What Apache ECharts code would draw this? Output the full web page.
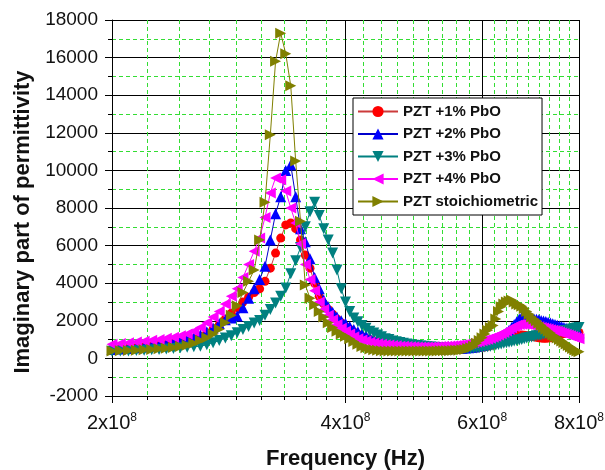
<!DOCTYPE html>
<html><head><meta charset="utf-8">
<script src="https://cdn.jsdelivr.net/npm/echarts@6/dist/echarts.min.js"></script>
<style>html,body{margin:0;padding:0;background:#fff}#c{width:605px;height:470px}</style>
</head><body><div id="c"></div>
<script>
// Frequency in MHz
const freqMHz = [
200,205,210,215,220,225,230,235,240,245,
250,255,260,265,270,275,280,285,290,295,
300,305,310,315,320,325,330,335,340,345,
350,355,360,365,370,375,380,385,390,395,
400,405,410,415,420,425,430,435,440,445,
450,455,460,465,470,475,480,485,490,495,
500,505,510,515,520,525,530,535,540,545,
550,555,560,565,570,575,580,585,590,595,
600,605,610,615,620,625,630,635,640,645,
650,655,660,665,670,675,680,685,690,695,
700,705,710,715,720,725,730,735,740,745,
750,755,760,765,770,775,780,785,790,795,
800];

const seriesNames = ['PZT +1% PbO','PZT +2% PbO','PZT +3% PbO','PZT +4% PbO','PZT stoichiometric'];

const pzt1 = [
500,520,550,580,610,650,690,740,800,870,
950,1050,1180,1350,1550,1800,2100,2400,2700,3000,
3250,3500,3700,4100,4800,5600,6400,7100,7200,6900,
6300,5500,4800,4000,3300,2900,2600,2350,2100,1900,
1700,1550,1400,1280,1170,1080,1000,930,870,820,
780,740,700,670,640,620,600,580,560,550,
540,530,520,510,500,500,490,490,490,490,
490,490,500,500,510,520,530,540,550,570,
590,610,640,680,730,780,840,900,960,1030,
1100,1160,1200,1230,1240,1240,1230,1210,1190,1170,
1150,1120,1100,1080,1070,1070,1080,1100,1130,1170,
1210,1250,1290,1320,1350,1370,1380,1390,1390,1390,
1380];

const pzt2 = [
480,500,530,560,600,640,690,750,820,900,
990,1100,1250,1420,1620,1850,2050,2150,2250,2700,
3200,3700,4200,4900,6300,7700,8600,10000,10300,8600,
6900,6200,5300,4300,3700,3100,2750,2450,2200,2000,
1850,1700,1540,1420,1300,1200,1100,1000,940,880,
830,780,740,700,670,640,620,600,580,560,
550,540,530,520,520,510,510,510,510,510,
520,520,530,540,550,570,590,610,640,670,
700,740,790,840,900,970,1050,1150,1250,1380,
1500,1650,1800,1950,2100,2200,2250,2250,2200,2150,
2100,2080,2050,2020,1990,1960,1920,1880,1840,1800,
1760,1720,1680,1640,1600,1560,1520,1480,1440,1400,
1360];

const pzt3 = [
380,390,400,420,440,460,480,500,530,560,
590,620,650,720,830,950,1080,1200,1370,1540,
1700,1880,2020,2300,2600,2950,3300,3750,4500,5200,
5900,7000,7800,8300,7600,6900,6300,5600,4700,3700,
3000,2500,2150,1950,1750,1600,1450,1350,1250,1150,
1050,1000,930,880,840,800,760,730,700,680,
660,640,620,600,590,580,570,560,550,540,
530,520,520,520,520,520,530,540,550,560,
580,600,620,650,680,710,740,770,800,830,
860,890,920,950,980,1010,1050,1080,1110,1140,
1170,1200,1230,1250,1280,1300,1320,1340,1360,1380,
1400,1420,1440,1460,1480,1500,1530,1560,1590,1620,
1650];

const pzt4 = [
750,790,830,870,910,960,1010,1070,1130,1200,
1300,1450,1650,1900,2200,2500,2900,3300,3700,4300,
5000,5700,6400,7500,8800,9600,9500,8900,8000,7200,
6100,5000,4200,3600,3000,2600,2300,2050,1800,1600,
1440,1300,1150,1050,980,920,860,820,780,750,
730,710,690,670,650,640,630,620,620,610,
610,610,610,610,620,620,630,640,650,660,
670,690,710,730,750,780,810,840,870,900,
940,980,1020,1070,1120,1180,1240,1310,1380,1460,
1540,1620,1700,1760,1800,1820,1820,1810,1790,1770,
1740,1710,1680,1650,1620,1590,1560,1530,1500,1470,
1440,1400,1360,1320,1280,1240,1200,1160,1120,1080,
1040];

const pztStoich = [
400,410,420,440,460,480,510,540,580,630,
700,800,950,1100,1300,1550,1900,2300,2800,3500,
4100,4700,6300,8300,11900,15800,17300,16200,14500,10500,
7300,3900,3200,2850,2500,2200,1900,1650,1450,1300,
1180,1050,900,750,630,560,500,460,430,410,
400,390,390,390,390,390,390,390,390,390,
400,400,400,400,400,400,410,410,410,410,
420,430,440,460,480,520,560,650,800,950,
1100,1300,1500,1650,1750,2100,2500,2750,2900,3000,
3050,3100,3000,2900,2850,2780,2650,2500,2350,2200,
2100,2000,1880,1760,1650,1550,1450,1350,1250,1150,
1080,1000,920,840,760,680,600,520,450,400,
350];

const xMajorTicks = [2e8, 4e8, 6e8, 8e8];
const yTicks = [-2000, 0, 2000, 4000, 6000, 8000, 10000, 12000, 14000, 16000, 18000];

const allValues = [pzt1, pzt2, pzt3, pzt4, pztStoich];
const colors = ['#ff0000', '#0000ff', '#008080', '#ff00ff', '#808000'];
const lineColors = ['#cc3b3b', '#0000cc', '#008080', '#ff00ff', '#808000'];
const symbols = ['circle', 'triangle', 'path://M0,0L10,0L5,9Z', 'path://M9,0L9,10L0,5Z', 'path://M0,0L0,10L9,5Z'];
const symbolSizes = [9, 11, 11, 11, 11];

// minor ticks: 8 between consecutive majors
const xMinorTicks = [];
for (let i = 0; i < xMajorTicks.length - 1; i++) {
  const a = xMajorTicks[i], b = xMajorTicks[i + 1];
  for (let k = 1; k <= 8; k++) xMinorTicks.push(a + k * (b - a) / 9);
}

const font = '"Liberation Sans", Arial, sans-serif';
const green = '#33dd33';

const series = seriesNames.map((name, s) => ({
  name: name,
  type: 'line',
  data: freqMHz.map((f, i) => [f * 1e6, allValues[s][i]]),
  symbol: symbols[s],
  symbolSize: symbolSizes[s],
  showSymbol: true,
  itemStyle: { color: colors[s] },
  lineStyle: { color: lineColors[s], width: 1 },
  emphasis: { disabled: true },
  clip: true,
  z: 3 + s
}));

const chart = echarts.init(document.getElementById('c'), null, { renderer: 'canvas' });
chart.setOption({
  backgroundColor: '#fff',
  animation: false,
  grid: { left: 112, right: 26, top: 20, bottom: 74, containLabel: false, outerBoundsMode: 'none' },
  legend: {
    data: seriesNames,
    orient: 'vertical',
    left: 353, top: 98,
    padding: [6, 4, 6, 4],
    itemGap: 7.5,
    itemWidth: 40, itemHeight: 14,
    borderColor: '#000', borderWidth: 1,
    backgroundColor: '#fff',
    textStyle: { fontFamily: font, fontSize: 15, fontWeight: 'bold', color: '#111' },
    z: 20
  },
  xAxis: [{
    type: 'log', min: 2e8, max: 8e8,
    name: 'Frequency (Hz)', nameLocation: 'middle', nameGap: 52,
    nameTextStyle: { fontFamily: font, fontSize: 22, fontWeight: 'bold', color: '#111' },
    axisLine: { show: true, onZero: false, lineStyle: { color: '#000', width: 1 } },
    axisTick: { show: true, inside: false, length: 7, customValues: xMajorTicks, lineStyle: { color: '#000' } },
    axisLabel: {
      customValues: xMajorTicks, margin: 16,
      formatter: v => '{n|' + Math.round(v / 1e8) + 'x10}{s|8}',
      rich: {
        n: { fontFamily: font, fontSize: 20, color: '#111' },
        s: { fontFamily: font, fontSize: 12, color: '#111', padding: [0, 0, 11, 0] }
      }
    },
    splitLine: { show: true, lineStyle: { color: '#000', width: 1 } },
    minorTick: { show: false }, minorSplitLine: { show: false }
  }, {
    type: 'log', min: 2e8, max: 8e8, position: 'bottom', gridIndex: 0,
    axisLine: { show: false, onZero: false },
    axisLabel: { show: false },
    axisTick: { show: true, inside: false, length: 4, customValues: xMinorTicks, lineStyle: { color: '#000' } },
    splitLine: { show: true, lineStyle: { color: green, width: 1, type: [4, 3] } },
    minorTick: { show: false }, minorSplitLine: { show: false }
  }],
  yAxis: {
    type: 'value', min: yTicks[0], max: yTicks[yTicks.length - 1], interval: 2000,
    name: 'Imaginary part of permittivity', nameLocation: 'middle', nameGap: 76,
    nameTextStyle: { fontFamily: font, fontSize: 22, fontWeight: 'bold', color: '#111', padding: [0, 28, 0, 0] },
    axisLine: { show: true, lineStyle: { color: '#000', width: 1 } },
    axisTick: { show: true, inside: false, length: 7, lineStyle: { color: '#000' } },
    axisLabel: { fontFamily: font, fontSize: 19, color: '#111', margin: 14, formatter: v => String(v) },
    splitLine: { show: true, lineStyle: { color: '#000', width: 1 } },
    minorTick: { show: true, splitNumber: 2, length: 4, lineStyle: { color: '#000' } },
    minorSplitLine: { show: true, lineStyle: { color: green, width: 1, type: [4, 3] } }
  },
  series: series
});
</script>
</body></html>
